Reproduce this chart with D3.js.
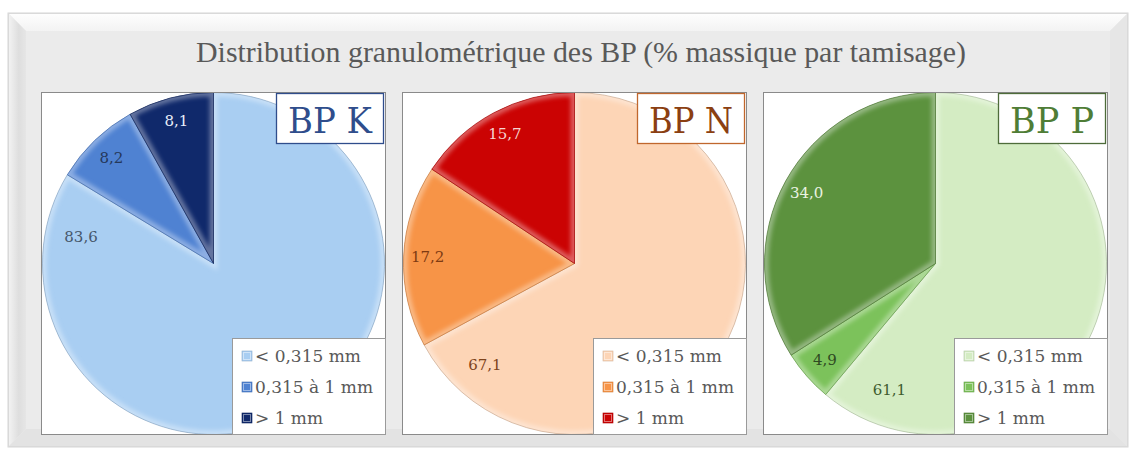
<!DOCTYPE html>
<html>
<head>
<meta charset="utf-8">
<script src="https://cdn.jsdelivr.net/npm/d3@7"></script>
<style>
  html, body { margin: 0; padding: 0; background: #ffffff; }
  svg { display: block; }
</style>
</head>
<body>
<svg id="chart" width="1130" height="451"></svg>
<script>
// Particle-size classes (sieve fractions)
const categories = ["< 0,315 mm", "0,315 à 1 mm", "> 1 mm"];
// Samples
const samples = ["BP K", "BP N", "BP P"];
// Mass percentage per class, one array per sample
const bpK = [83.6, 8.2, 8.1];
const bpN = [67.1, 17.2, 15.7];
const bpP = [61.1, 4.9, 34.0];
const seriesValues = [bpK, bpN, bpP];

const chartTitle = "Distribution granulométrique des BP (% massique par tamisage)";

// Colour themes per sample: [fine, medium, coarse]
const palettes = [
  { fills: ["#a9cef2", "#4f82d2", "#10296b"], labels: ["#46566b", "#25385a", "#e8eef8"], title: "#2f4d8c", border: "#2f4d8c" },
  { fills: ["#fdd5b6", "#f79447", "#cb0303"], labels: ["#7e431a", "#7e3a12", "#f6d6d2"], title: "#8b3f12", border: "#c0672d" },
  { fills: ["#d4ecc3", "#7cc25b", "#5c923e"], labels: ["#3e5c2e", "#2f4a22", "#eaf2e2"], title: "#4f7d36", border: "#4e6c3a" }
];

const svg = d3.select("#chart");
const defs = svg.append("defs");

// ---- outer bevelled frame ----
const fx0 = 8, fy0 = 13, fx1 = 1128, fy1 = 447, bev = 18;
const gTop = defs.append("linearGradient").attr("id", "gTop").attr("x1", 0).attr("y1", 0).attr("x2", 0).attr("y2", 1);
gTop.append("stop").attr("offset", 0).attr("stop-color", "#fefefe");
gTop.append("stop").attr("offset", 1).attr("stop-color", "#f3f3f3");
const gLeft = defs.append("linearGradient").attr("id", "gLeft").attr("x1", 0).attr("y1", 0).attr("x2", 1).attr("y2", 0);
gLeft.append("stop").attr("offset", 0).attr("stop-color", "#f4f4f4");
gLeft.append("stop").attr("offset", 0.6).attr("stop-color", "#dedede");
gLeft.append("stop").attr("offset", 1).attr("stop-color", "#e6e6e6");

svg.append("rect").attr("x", fx0).attr("y", fy0).attr("width", fx1 - fx0).attr("height", fy1 - fy0)
  .attr("fill", "#ebebeb").attr("stroke", "#d6d6d6").attr("stroke-width", 1);
svg.append("polygon").attr("fill", "url(#gTop)")
  .attr("points", [[fx0, fy0], [fx1, fy0], [fx1 - bev, fy0 + bev], [fx0 + bev, fy0 + bev]].join(" "));
svg.append("polygon").attr("fill", "url(#gLeft)")
  .attr("points", [[fx0, fy0], [fx0 + bev, fy0 + bev], [fx0 + bev, fy1 - bev], [fx0, fy1]].join(" "));
svg.append("polygon").attr("fill", "#e6e6e6")
  .attr("points", [[fx1, fy0], [fx1, fy1], [fx1 - bev, fy1 - bev], [fx1 - bev, fy0 + bev]].join(" "));
svg.append("polygon").attr("fill", "#e3e3e3")
  .attr("points", [[fx0, fy1], [fx0 + bev, fy1 - bev], [fx1 - bev, fy1 - bev], [fx1, fy1]].join(" "));
svg.append("rect").attr("x", fx0 + 0.5).attr("y", fy0 + 0.5).attr("width", fx1 - fx0 - 1).attr("height", fy1 - fy0 - 1)
  .attr("fill", "none").attr("stroke", "#d9d9d9");

// ---- main title ----
svg.append("text")
  .attr("x", 581).attr("y", 62)
  .attr("text-anchor", "middle")
  .attr("font-family", "'Liberation Serif', serif")
  .attr("font-size", 30)
  .attr("fill", "#595959")
  .attr("textLength", 770)
  .attr("lengthAdjust", "spacingAndGlyphs")
  .text(chartTitle);

// ---- filters ----
const blur = defs.append("filter").attr("id", "bevelBlur").attr("x", "-20%").attr("y", "-20%").attr("width", "140%").attr("height", "140%");
blur.append("feGaussianBlur").attr("stdDeviation", 2.2);

// ---- panel layout ----
const boxX0 = 41, boxStep = 361, boxY = 92, boxW = 345, boxH = 343;
const radius = 171;
const fmt = v => d3.format(".1f")(v).replace(".", ",");

const pie = d3.pie().sort(null).value(d => d).startAngle(0).endAngle(2 * Math.PI);
const arc = d3.arc().innerRadius(0).outerRadius(radius);

seriesValues.forEach((vals, i) => {
  const pal = palettes[i];
  const bx = boxX0 + i * boxStep;
  const g = svg.append("g").attr("transform", `translate(${bx},${boxY})`);

  const clipId = `box${i}`;
  defs.append("clipPath").attr("id", clipId)
    .append("rect").attr("width", boxW).attr("height", boxH);

  // plot area
  g.append("rect").attr("width", boxW).attr("height", boxH).attr("fill", "#ffffff");

  const cx = boxW / 2, cy = boxH / 2;
  const pieG = g.append("g").attr("clip-path", `url(#${clipId})`)
    .append("g").attr("transform", `translate(${cx},${cy})`);

  const arcs = pie(vals);
  const color = d3.scaleOrdinal().domain(categories).range(pal.fills);

  const slices = pieG.selectAll("g.slice").data(arcs).join("g").attr("class", "slice");

  slices.each(function (d, j) {
    const s = d3.select(this);
    const sid = `sl${i}_${j}`;
    defs.append("clipPath").attr("id", sid).append("path")
      .attr("transform", `translate(${bx + cx},${boxY + cy})`)
      .attr("d", arc(d));
    const base = d3.color(color(categories[j]));
    s.append("path").attr("d", arc(d)).attr("fill", base.formatHex());
    // soft bevel: light edges inside each slice
    const hi = d3.interpolateRgb(base, "#ffffff")(0.5);
    s.append("g").attr("clip-path", `url(#${sid})`)
      .attr("transform", `translate(${-(bx + cx)},${-(boxY + cy)})`)
      .append("path")
      .attr("transform", `translate(${bx + cx},${boxY + cy})`)
      .attr("d", arc(d))
      .attr("fill", "none")
      .attr("stroke", hi)
      .attr("stroke-opacity", 0.7)
      .attr("stroke-width", 8)
      .attr("filter", "url(#bevelBlur)");
    s.append("path").attr("d", arc(d)).attr("fill", "none")
      .attr("stroke", base.darker(0.7).formatHex()).attr("stroke-width", 0.8).attr("stroke-opacity", 0.8);
  });

  // data labels
  const largest = d3.maxIndex(vals);
  const labelPos = (d, j) => {
    let a, rr;
    if (j === largest) { a = d.endAngle - 20 * Math.PI / 180; rr = radius * 0.79; }
    else { a = (d.startAngle + d.endAngle) / 2; rr = radius * 0.86; }
    return [Math.sin(a) * rr, -Math.cos(a) * rr];
  };
  pieG.selectAll("text.lbl").data(arcs).join("text").attr("class", "lbl")
    .attr("x", (d, j) => labelPos(d, j)[0])
    .attr("y", (d, j) => labelPos(d, j)[1])
    .attr("text-anchor", "middle")
    .attr("dominant-baseline", "central")
    .attr("font-family", "'DejaVu Serif', serif")
    .attr("font-size", 15)
    .attr("fill", (d, j) => pal.labels[j])
    .text(d => fmt(d.data));

  // plot area border
  g.append("rect").attr("x", 0.5).attr("y", 0.5).attr("width", boxW - 1).attr("height", boxH - 1)
    .attr("fill", "none").attr("stroke", "#8a8a8a").attr("stroke-width", 1);

  // sample title box
  const tb = g.append("g").attr("transform", "translate(235,1)");
  tb.append("rect").attr("x", 0.5).attr("y", 0.5).attr("width", 107).attr("height", 50)
    .attr("fill", "#ffffff").attr("stroke", pal.border).attr("stroke-width", 1.3);
  tb.append("text").attr("x", 54).attr("y", 40)
    .attr("text-anchor", "middle")
    .attr("font-family", "'DejaVu Serif', serif")
    .attr("font-size", 35)
    .attr("fill", pal.title)
    .attr("textLength", 84)
    .attr("lengthAdjust", "spacingAndGlyphs")
    .text(samples[i]);

  // legend
  const lgW = 154, lgH = 97;
  const lg = g.append("g").attr("transform", `translate(${boxW - lgW},${boxH - lgH})`);
  lg.append("rect").attr("x", 0.5).attr("y", 0.5).attr("width", lgW - 1).attr("height", lgH - 1)
    .attr("fill", "#ffffff").attr("stroke", "#9a9a9a").attr("stroke-width", 1);
  const items = lg.selectAll("g.item").data(categories).join("g").attr("class", "item")
    .attr("transform", (d, j) => `translate(10,${18 + j * 31})`);
  items.append("rect").attr("x", 0).attr("y", -5).attr("width", 10).attr("height", 10)
    .attr("fill", d => color(d))
    .attr("stroke", d => d3.color(color(d)).darker(0.5).formatHex()).attr("stroke-width", 0.6);
  items.append("rect").attr("x", 1.5).attr("y", -3.5).attr("width", 7).attr("height", 7)
    .attr("fill", "none").attr("stroke", "#ffffff").attr("stroke-opacity", 0.45).attr("stroke-width", 1);
  items.append("text").attr("x", 13).attr("y", 0)
    .attr("dominant-baseline", "central")
    .attr("font-family", "'DejaVu Serif', serif")
    .attr("font-size", 17)
    .attr("fill", "#595959")
    .text(d => d);
});
</script>
</body>
</html>
